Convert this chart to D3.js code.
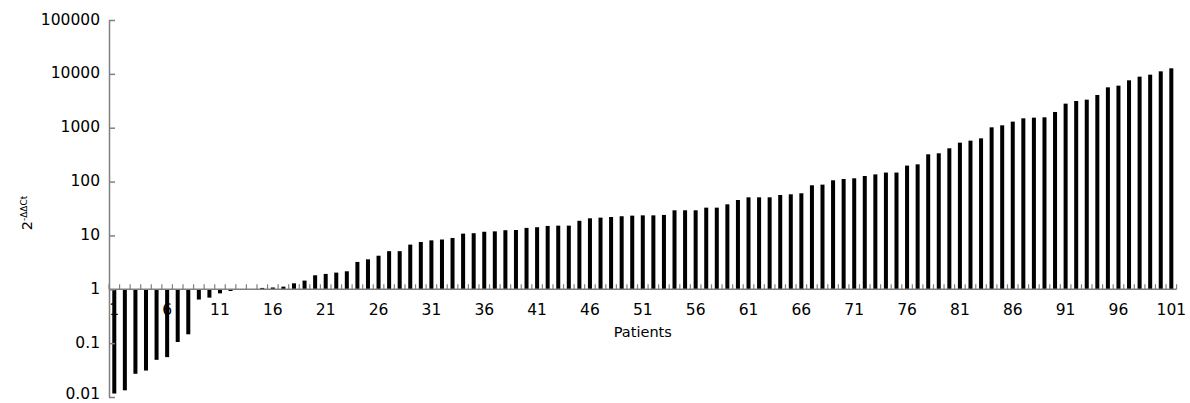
<!DOCTYPE html>
<html>
<head>
<meta charset="utf-8">
<script src="https://cdn.jsdelivr.net/npm/d3@7"></script>
<style>
  html, body { margin: 0; padding: 0; background: #fff; }
  svg { display: block; }
  text { font-family: "DejaVu Sans", Verdana, sans-serif; fill: #000; }
</style>
</head>
<body>
<svg id="chart" width="1190" height="403"></svg>
<script>
// ---- data ----
const patients = d3.range(1, 102);
const expression = [
  0.0116, 0.0133, 0.027, 0.031, 0.049, 0.055, 0.105, 0.146, 0.645, 0.70,
  0.84, 0.93, 0.97, 0.98, 1.06, 1.08, 1.12, 1.29, 1.45, 1.82,
  1.93, 2.04, 2.16, 3.22, 3.6, 4.2, 5.1, 5.1, 6.75, 7.56,
  8.1, 8.4, 8.97, 10.8, 11.0, 11.7, 11.9, 12.5, 12.6, 13.8,
  14.2, 15.0, 15.2, 15.2, 18.7, 20.8, 21.4, 22.0, 22.7, 23.3,
  23.6, 23.6, 24.0, 29.3, 29.3, 29.3, 32.8, 32.8, 37.8, 45.5,
  51, 51, 51, 56.4, 58, 60.6, 85.3, 87.7, 105.6, 111.7,
  115, 127, 136, 147, 147, 198, 209, 321, 335, 415,
  528, 575, 635, 1017, 1108, 1297, 1494, 1537, 1560, 1960,
  2800, 3135, 3320, 4054, 5623, 6040, 7586, 8870, 9660, 11140,
  12670
];
const xTickLabels = [1, 6, 11, 16, 21, 26, 31, 36, 41, 46, 51, 56, 61, 66, 71, 76, 81, 86, 91, 96, 101];
const yTickValues = [0.01, 0.1, 1, 10, 100, 1000, 10000, 100000];
const yTickLabels = ["0.01", "0.1", "1", "10", "100", "1000", "10000", "100000"];

// ---- layout ----
const svg = d3.select("#chart");
const mLeft = 109, mRight = 1176.6, mTop = 20, mBottom = 397;
const axisColor = "#7f7f7f";

const x = d3.scaleBand().domain(patients).range([mLeft, mRight]).paddingInner(0).paddingOuter(0);
const y = d3.scaleLog().domain([0.01, 100000]).range([mBottom, mTop]);
const barW = x.bandwidth() * 0.38;

// bars
svg.append("g").selectAll("rect")
  .data(patients.map((p, i) => ({ p, v: expression[i] })))
  .join("rect")
  .attr("x", d => x(d.p) + (x.bandwidth() - barW) / 2)
  .attr("width", barW)
  .attr("y", d => Math.min(y(d.v), y(1)))
  .attr("height", d => Math.abs(y(d.v) - y(1)))
  .attr("fill", "#000");

// y axis
const yAxis = svg.append("g").attr("transform", `translate(${mLeft},0)`)
  .call(d3.axisRight(y).tickValues(yTickValues).tickSize(6).tickSizeOuter(0).tickFormat(""));
yAxis.select(".domain").attr("stroke", axisColor).attr("stroke-width", 1.5);
yAxis.selectAll(".tick line").attr("stroke", axisColor).attr("stroke-width", 1.5);

svg.append("g").selectAll("text")
  .data(yTickValues)
  .join("text")
  .attr("x", mLeft - 9)
  .attr("y", d => Math.min(y(d) + 4.6, 398.5))
  .attr("text-anchor", "end")
  .attr("font-size", "15.5px")
  .text((d, i) => yTickLabels[i]);

// x axis at y = 1
const bounds = patients.map(p => x(p) + x.bandwidth()).concat([mLeft]);
const xg = svg.append("g");
xg.append("line")
  .attr("x1", mLeft).attr("x2", mRight)
  .attr("y1", y(1)).attr("y2", y(1))
  .attr("stroke", axisColor).attr("stroke-width", 1.5);
xg.selectAll("line.tk")
  .data(bounds)
  .join("line")
  .attr("class", "tk")
  .attr("x1", d => d).attr("x2", d => d)
  .attr("y1", y(1)).attr("y2", y(1) - 5)
  .attr("stroke", axisColor).attr("stroke-width", 1.2);

svg.append("g").selectAll("text")
  .data(xTickLabels)
  .join("text")
  .attr("x", d => x(d) + x.bandwidth() / 2)
  .attr("y", y(1) + 26)
  .attr("text-anchor", "middle")
  .attr("font-size", "15.5px")
  .text(d => d);

svg.append("text")
  .attr("x", (mLeft + mRight) / 2)
  .attr("y", 337)
  .attr("text-anchor", "middle")
  .attr("font-size", "14.5px")
  .text("Patients");

// y label 2^-ΔΔCt
const yl = svg.append("text")
  .attr("transform", "translate(32,213) rotate(-90)")
  .attr("text-anchor", "middle")
  .attr("font-size", "14.5px");
yl.append("tspan").text("2");
yl.append("tspan").attr("font-size", "9px").attr("dy", "-0.55em").text("-ΔΔCt");
</script>
</body>
</html>
